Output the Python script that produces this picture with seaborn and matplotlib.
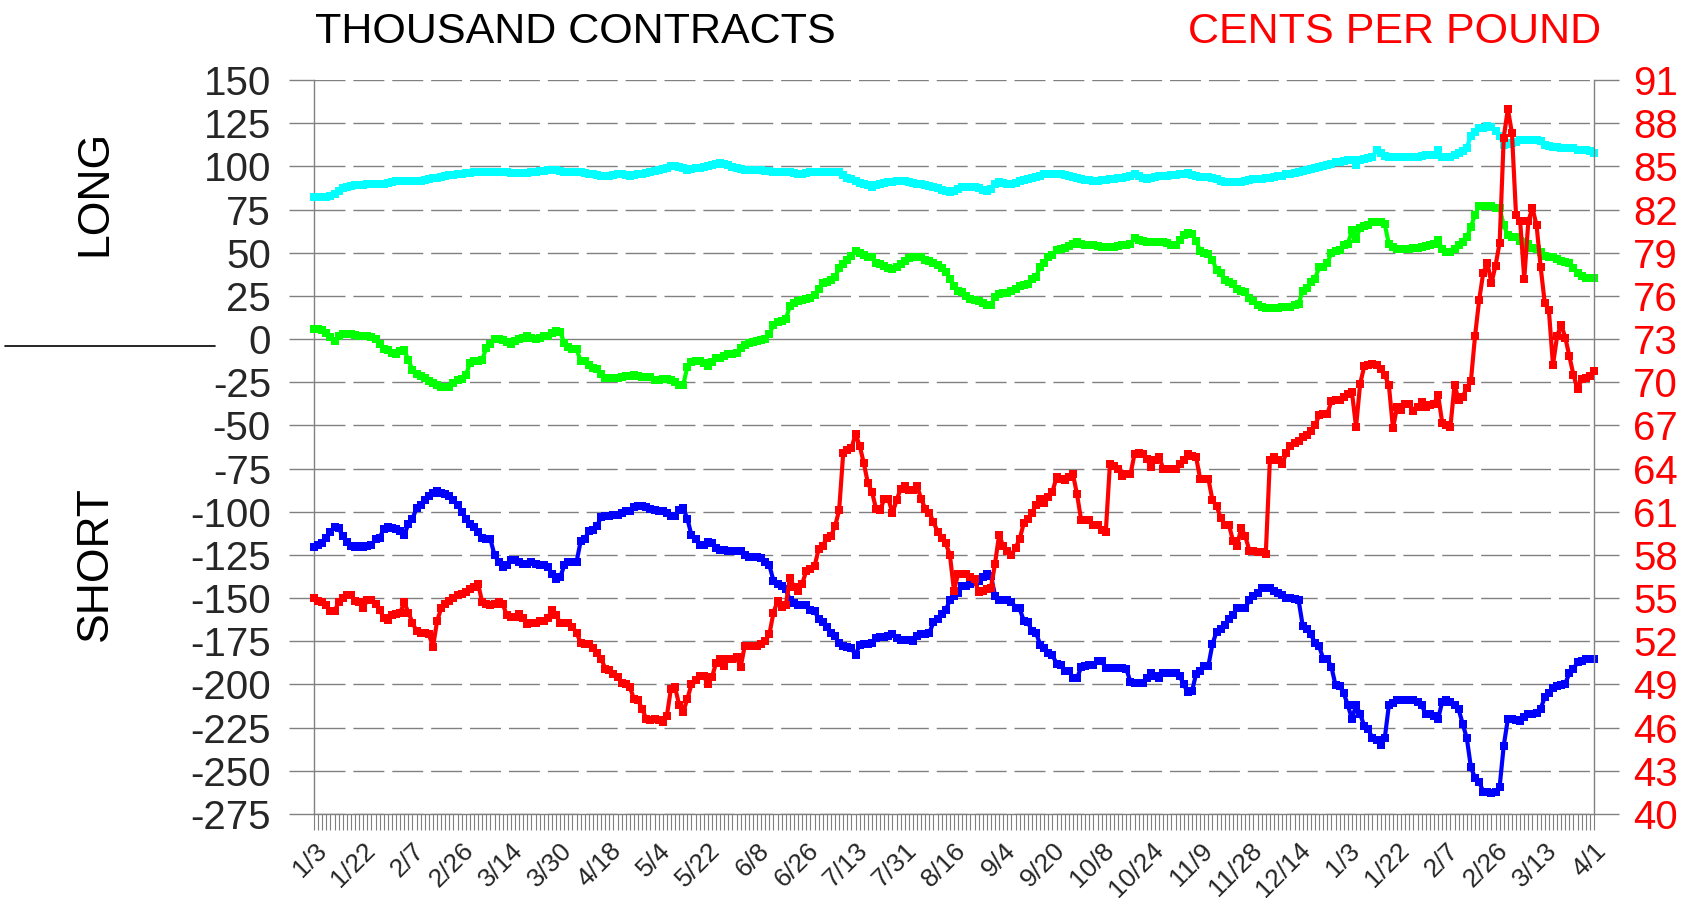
import numpy as np
import pandas as pd
import matplotlib
matplotlib.use("Agg")
import matplotlib.pyplot as plt
from matplotlib.lines import Line2D
import seaborn as sns

# Trading-day axis labels (one every 12 sessions)
date_labels = ["1/3", "1/22", "2/7", "2/26", "3/14", "3/30", "4/18", "5/4", "5/22",
               "6/8", "6/26", "7/13", "7/31", "8/16", "9/4", "9/20", "10/8", "10/24",
               "11/9", "11/28", "12/14", "1/3", "1/22", "2/7", "2/26", "3/13", "4/1"]

# Thousand contracts (left scale)
cyan_long = [
    82.2, 82.2, 82.3, 82.5, 83.0, 84.0, 86.0, 87.5, 88.3, 88.8,
    89.0, 89.2, 89.3, 89.5, 89.6, 89.6, 89.7, 89.8, 90.2, 90.8,
    91.3, 91.7, 91.7, 91.7, 91.7, 91.5, 91.7, 92.0, 92.5, 93.0,
    93.5, 94.0, 94.5, 95.0, 95.2, 95.5, 95.7, 96.0, 96.3, 96.7,
    96.7, 96.8, 96.7, 96.7, 96.8, 96.7, 96.5, 96.5, 96.4, 96.3,
    96.2, 96.2, 96.3, 96.5, 96.8, 97.2, 97.5, 97.8, 98.1, 97.8,
    97.3, 97.0, 96.7, 96.7, 96.7, 96.5, 96.2, 95.8, 95.3, 95.0,
    94.5, 94.5, 94.7, 95.0, 95.3, 95.3, 95.0, 94.5, 94.8, 95.3,
    95.8, 96.3, 96.7, 97.3, 98.0, 98.7, 99.3, 100.0, 100.1, 99.5,
    98.8, 98.1, 98.3, 98.8, 99.2, 99.5, 100.0, 100.6, 101.2, 101.8,
    101.3, 100.5, 99.5, 99.0, 98.5, 98.1, 98.1, 98.1, 98.0, 97.8,
    97.5, 97.2, 96.7, 96.7, 96.7, 96.7, 96.5, 96.0, 95.3, 95.8,
    96.3, 96.7, 96.7, 96.7, 96.7, 96.7, 96.8, 96.7, 96.5, 95.0,
    93.5, 92.5, 91.5, 90.5, 89.7, 89.0, 88.3, 89.0, 89.8, 90.6,
    90.8, 91.2, 91.5, 91.7, 91.5, 91.0, 90.5, 90.0, 89.7, 89.2,
    88.8, 88.3, 87.5, 86.5, 85.8, 85.0, 86.0, 87.0, 87.8, 87.8,
    87.8, 87.8, 87.5, 86.5, 85.5, 87.0, 89.5, 91.1, 90.5, 90.0,
    89.7, 90.5, 91.3, 92.0, 92.5, 93.3, 94.0, 94.7, 95.3, 95.3,
    95.3, 95.3, 95.3, 95.0, 94.5, 94.0, 93.3, 92.5, 92.3, 92.0,
    91.8, 91.7, 92.0, 92.3, 92.5, 92.8, 93.1, 93.4, 94.0, 94.7,
    95.3, 94.5, 93.5, 92.5, 93.2, 93.8, 94.5, 94.5, 94.7, 94.9,
    95.1, 95.3, 95.8, 96.2, 95.0, 94.2, 93.9, 93.9, 93.9, 93.3,
    92.5, 91.8, 91.1, 91.1, 91.1, 91.1, 91.1, 91.5, 92.0, 92.5,
    92.5, 92.5, 93.0, 93.5, 93.9, 94.2, 94.7, 95.3, 95.7, 96.2,
    96.7, 97.2, 97.7, 98.3, 98.9, 99.5, 100.2, 100.9, 101.6, 102.3,
    102.8, 103.2, 103.7, 103.5, 100.9, 103.7, 104.2, 104.7, 105.2, 109.4,
    107.5, 106.0, 105.2, 105.2, 105.2, 105.2, 105.2, 105.2, 105.2, 105.2,
    105.8, 106.3, 106.6, 106.6, 109.4, 105.2, 105.2, 105.2, 106.5, 108.0,
    109.0, 110.8, 117.8, 120.0, 122.0, 122.0, 123.4, 122.5, 120.6, 117.8,
    112.2, 113.0, 113.6, 114.2, 115.0, 115.0, 115.0, 115.0, 115.0, 114.5,
    112.2, 111.8, 111.4, 111.0, 110.8, 110.8, 110.8, 110.8, 109.4, 109.4,
    109.4, 109.0, 108.0]

green_net = [
    5.6, 5.6, 5.0, 3.5, 1.0, -1.4, 1.5, 2.9, 3.0, 2.9,
    2.5, 2.0, 1.5, 1.5, 1.0, 0.0, -3.0, -5.6, -6.5, -8.0,
    -8.4, -7.0, -6.4, -12.0, -18.0, -20.0, -21.5, -22.4, -24.5, -25.5,
    -26.6, -27.5, -28.0, -27.5, -25.5, -23.8, -23.0, -21.0, -14.0, -12.6,
    -12.6, -12.0, -5.0, -2.8, 0.0, 0.0, -0.5, -1.5, -2.8, -1.0,
    0.0, 0.5, 1.5, 0.5, 0.0, 0.5, 1.5, 2.0, 3.5, 4.5,
    4.0, -2.0, -4.5, -5.6, -6.0, -12.6, -12.6, -15.0, -16.8, -17.5,
    -20.0, -22.4, -22.4, -22.4, -22.4, -22.0, -21.5, -21.5, -21.0, -21.5,
    -22.0, -22.0, -22.0, -23.8, -23.8, -23.0, -23.0, -23.8, -25.0, -26.6,
    -26.6, -16.0, -13.0, -12.6, -12.6, -14.0, -15.4, -13.0, -11.2, -11.2,
    -10.0, -8.4, -8.4, -8.0, -5.0, -3.5, -2.5, -1.5, -1.0, -0.5,
    0.0, 3.0, 8.0, 9.8, 10.5, 11.5, 19.0, 21.0, 22.0, 22.5,
    23.0, 24.0, 25.3, 29.0, 32.3, 33.0, 34.0, 36.0, 41.0, 43.5,
    46.0, 48.0, 51.0, 50.0, 48.5, 47.7, 47.7, 44.0, 43.5, 42.5,
    41.0, 40.7, 42.0, 43.5, 45.0, 47.0, 47.7, 47.7, 47.5, 46.0,
    45.0, 44.0, 43.0, 41.0, 39.0, 35.0, 31.0, 28.0, 27.0, 25.0,
    23.0, 22.5, 22.0, 21.0, 20.0, 19.7, 24.5, 26.0, 26.7, 26.7,
    28.0, 29.0, 30.9, 31.5, 32.0, 35.0, 36.0, 42.0, 44.0, 47.5,
    48.5, 51.5, 51.9, 52.5, 54.0, 55.0, 56.0, 55.0, 54.7, 54.7,
    54.5, 54.0, 53.3, 53.3, 53.3, 53.3, 54.0, 54.5, 54.7, 55.0,
    58.5, 57.5, 57.0, 56.0, 56.0, 56.0, 56.0, 56.0, 55.5, 54.7,
    54.7, 57.5, 60.5, 61.5, 61.0, 57.0, 51.0, 50.0, 49.0, 46.0,
    40.0, 38.0, 34.0, 33.0, 32.0, 29.0, 28.0, 27.0, 24.0, 22.0,
    19.5, 18.3, 18.0, 18.0, 18.0, 18.0, 18.3, 18.3, 18.3, 19.5,
    20.5, 28.0, 29.5, 33.0, 35.0, 41.5, 42.0, 44.0, 50.0, 51.0,
    51.5, 54.5, 55.0, 63.0, 58.0, 64.5, 65.5, 66.0, 67.5, 68.0,
    67.5, 66.5, 55.0, 53.3, 52.0, 52.0, 52.0, 52.0, 52.5, 53.0,
    53.3, 54.0, 54.7, 55.0, 57.5, 52.0, 50.5, 50.5, 52.0, 54.7,
    56.0, 58.9, 65.0, 72.0, 77.0, 77.1, 77.1, 77.0, 76.0, 75.7,
    66.0, 60.0, 58.9, 58.9, 57.0, 56.1, 55.0, 52.5, 51.9, 50.5,
    48.0, 47.7, 47.7, 46.5, 45.0, 44.9, 44.0, 41.0, 38.0, 36.5,
    35.1, 35.1, 35.1]

blue_comm = [
    -120.5, -119, -118, -115, -112, -109, -109.5, -114, -117.7, -120,
    -120.5, -120, -120.5, -120, -119, -116, -115, -110, -109, -109.5,
    -110, -111, -113.5, -107, -104, -98, -96, -93, -91, -89,
    -88, -89, -90, -91, -93, -96, -100, -104, -107, -109,
    -112, -115, -116, -116, -125, -129, -131.7, -131, -128, -128,
    -129, -130, -130, -129, -130, -131, -131, -132, -136, -138.7,
    -138, -131, -129, -129, -129, -117, -116, -111, -110.7, -108,
    -103, -102.3, -102.3, -102, -102, -100.5, -99.5, -99.5, -97, -96.7,
    -96.7, -97.5, -98.5, -99, -99.5, -99.5, -101, -102.3, -102.3, -99,
    -98, -104, -113.5, -116, -119, -119, -117.7, -118, -121, -121.9,
    -122, -123, -123, -123, -123, -125, -126, -126, -126, -127,
    -129, -131, -140, -142, -143, -145, -151, -153, -154, -154,
    -154, -157, -157.5, -162, -164, -167, -170, -172, -176, -178,
    -178.5, -179, -183, -177, -176.5, -176.5, -176, -173, -172.3, -172.3,
    -172, -171, -173, -174, -174.5, -174.5, -175, -172, -171, -171,
    -170, -164, -162, -159, -157, -151, -149, -147, -143, -143,
    -142, -140.5, -140, -137.5, -136, -137, -148.5, -151, -151.3, -151.3,
    -152, -155.5, -156, -163, -164, -169, -170, -177, -179, -182,
    -183, -188, -189, -192, -192, -196, -196.2, -190, -189.2, -189,
    -189, -186.4, -186.4, -190.6, -190.6, -190.6, -190.6, -190.6, -191, -198.5,
    -199, -199, -199, -196, -193.4, -195, -196.2, -193.5, -193.4, -193.4,
    -193.4, -195, -200, -204.6, -204, -194, -192, -189.2, -189.2, -176.5,
    -169.5, -168, -165.3, -162, -159.7, -155.5, -155.5, -155.5, -151.3, -149,
    -147.1, -144.3, -144.3, -144.3, -146, -147.1, -148, -149.9, -149.9, -150.5,
    -151.3, -166, -168, -171, -176, -178, -185, -185, -190, -200.4,
    -201, -205, -212, -220, -212, -217, -224.2, -226, -231.2, -232,
    -235, -231, -212, -211, -209, -208.8, -209, -208.8, -209, -210,
    -212, -217.2, -217.2, -218, -220, -210, -209, -210.2, -212, -214.4,
    -222.8, -231.2, -248, -254, -256.4, -262, -262, -263, -262, -259.2,
    -235.4, -220, -220, -220.5, -221.4, -219, -217.2, -217.2, -216.5, -214,
    -207.4, -205, -201.8, -201, -200.4, -199.5, -193.4, -191, -187, -186.3,
    -185, -185, -185.5]

# Cents per pound (right scale)
price = [
    55.0, 54.8, 54.7, 54.5, 54.1, 54.1, 54.7, 55.0, 55.2, 55.2,
    54.8, 54.7, 54.3, 54.9, 54.9, 54.6, 54.2, 53.6, 53.5, 53.8,
    53.9, 54.0, 54.7, 54.0, 53.3, 52.7, 52.6, 52.6, 52.5, 51.6,
    53.4, 54.3, 54.6, 54.8, 55.0, 55.2, 55.3, 55.4, 55.6, 55.8,
    56.0, 54.7, 54.6, 54.5, 54.6, 54.7, 54.6, 53.8, 53.7, 53.7,
    53.9, 53.6, 53.2, 53.3, 53.3, 53.4, 53.4, 53.6, 54.2, 53.8,
    53.3, 53.3, 53.3, 53.0, 52.6, 51.9, 51.8, 51.8, 51.5, 51.2,
    50.8, 50.1, 50.0, 49.7, 49.5, 49.1, 49.0, 48.8, 48.0, 47.9,
    47.3, 46.6, 46.5, 46.6, 46.5, 46.4, 46.8, 48.7, 48.8, 47.6,
    47.1, 48.0, 49.0, 49.3, 49.6, 49.6, 49.0, 49.5, 50.5, 50.8,
    50.3, 50.8, 50.8, 50.9, 50.2, 51.7, 51.7, 51.7, 51.7, 51.8,
    52.0, 52.5, 54.0, 54.8, 54.4, 54.5, 56.4, 55.8, 55.5, 56.0,
    56.9, 57.0, 57.2, 58.4, 58.6, 59.2, 59.3, 60.0, 61.1, 65.1,
    65.3, 65.4, 66.4, 65.6, 64.4, 63.0, 62.4, 61.2, 61.1, 61.9,
    61.9, 60.9, 61.8, 62.6, 62.8, 62.5, 62.5, 62.8, 61.9, 61.2,
    60.9, 60.3, 59.6, 59.2, 58.8, 58.0, 55.5, 56.7, 56.7, 56.7,
    56.5, 56.3, 55.4, 55.5, 55.6, 55.7, 57.4, 59.4, 58.6, 58.3,
    58.0, 58.5, 59.1, 60.2, 60.5, 60.9, 61.5, 61.9, 61.6, 62.0,
    62.4, 63.4, 63.3, 63.2, 63.4, 63.6, 62.2, 60.4, 60.4, 60.4,
    60.1, 60.1, 59.7, 59.6, 64.3, 64.2, 64.0, 63.5, 63.6, 63.6,
    65.0, 65.1, 65.0, 64.7, 64.1, 64.6, 64.8, 64.0, 64.0, 64.0,
    64.0, 64.3, 64.6, 65.0, 64.9, 64.8, 63.3, 63.3, 63.3, 61.8,
    61.4, 60.6, 60.1, 60.1, 59.0, 58.6, 59.9, 59.3, 58.3, 58.3,
    58.2, 58.2, 58.1, 64.6, 64.8, 64.6, 64.3, 65.1, 65.6, 65.8,
    65.9, 66.2, 66.3, 66.6, 67.0, 67.7, 67.8, 67.8, 68.7, 68.8,
    68.8, 69.0, 69.2, 69.3, 66.9, 69.9, 71.1, 71.2, 71.3, 71.2,
    70.9, 70.5, 69.8, 66.8, 68.3, 68.1, 68.5, 68.5, 68.0, 68.3,
    68.6, 68.3, 68.4, 68.5, 69.1, 67.2, 67.0, 66.9, 69.8, 68.8,
    69.0, 69.6, 70.1, 73.2, 75.7, 77.6, 78.3, 76.9, 78.1, 79.7,
    87.0, 89.0, 87.3, 81.6, 81.2, 77.2, 81.2, 82.1, 80.9, 78.0,
    75.5, 75.0, 71.2, 73.2, 74.0, 73.1, 71.8, 70.5, 69.5, 70.2,
    70.3, 70.4, 70.8]

sns.set_style("white")
plt.rcParams["font.family"] = ["Liberation Sans", "DejaVu Sans"]
plt.rcParams["axes.unicode_minus"] = False

W, H = 1685, 910
fig = plt.figure(figsize=(W / 100, H / 100), dpi=100)
ax = fig.add_axes([314 / W, 1 - 814 / H, 1280 / W, 734 / H])
ax2 = ax.twinx()

days = np.arange(len(price))
df = pd.DataFrame({"day": days, "cyan": cyan_long, "green": green_net,
                   "blue": blue_comm, "price": price})

grid_color = "#808080"
left_ticks = np.arange(-275, 151, 25)
right_ticks = np.arange(40, 92, 3)

for v in left_ticks:
    if v == 0:
        ax.axhline(v, color=grid_color, lw=1.0, zorder=0.5)
    else:
        ax.axhline(v, color=grid_color, lw=1.0, ls=(0, (22.3, 5.7)), zorder=0.5)

style = dict(marker="s", markersize=6, markeredgewidth=0, linewidth=3.0,
             clip_on=False, zorder=3)
sns.lineplot(data=df, x="day", y="cyan", ax=ax, color="#00FFFF", **style)
sns.lineplot(data=df, x="day", y="green", ax=ax, color="#00FF00", **style)
sns.lineplot(data=df, x="day", y="blue", ax=ax, color="#0000FF", **style)
sns.lineplot(data=df, x="day", y="price", ax=ax2, color="#FF0000", **style)

ax.set_xlim(0, len(price) - 1)
ax.set_ylim(-275, 150)
ax2.set_ylim(40, 91)
for a in (ax, ax2):
    a.set_xlabel("")
    a.set_ylabel("")

ax.set_xticks(np.arange(0, len(price), 12))
ax.set_xticklabels(date_labels, rotation=45, ha="right", va="top",
                   rotation_mode="anchor")
ax.set_xticks(days, minor=True)
ax.tick_params(axis="x", which="both", direction="out", length=11.5, width=0.8,
               color=grid_color, labelsize=19, pad=6, bottom=True)

ax.set_yticks(left_ticks)
ax.set_yticklabels([str(v) for v in left_ticks])
ax.tick_params(axis="y", direction="out", length=18, width=1.0, color=grid_color,
               labelsize=29, pad=13, left=True)

ax2.set_yticks(right_ticks)
ax2.set_yticklabels([str(v) for v in right_ticks])
ax2.tick_params(axis="y", direction="out", length=18, width=1.0, color=grid_color,
                labelsize=29, labelcolor="#FF0000", pad=10, right=True)

for a in (ax, ax2):
    a.spines["top"].set_visible(False)
    for s in ("left", "right", "bottom"):
        a.spines[s].set_color(grid_color)
        a.spines[s].set_linewidth(1.0)
ax2.spines["left"].set_visible(False)
ax2.spines["bottom"].set_visible(False)
ax.spines["right"].set_visible(False)

fig.text(315 / W, 1 - 32 / H, "THOUSAND CONTRACTS", fontsize=31,
         ha="left", va="center", color="black")
fig.text(1601 / W, 1 - 32 / H, "CENTS PER POUND", fontsize=31,
         ha="right", va="center", color="#FF0000")
fig.text(95 / W, 1 - 193 / H, "LONG", rotation=90, fontsize=32,
         ha="center", va="center", color="black")
fig.text(95 / W, 1 - 564 / H, "SHORT", rotation=90, fontsize=32,
         ha="center", va="center", color="black")
fig.add_artist(Line2D([5 / W, 215 / W], [1 - 346 / H, 1 - 346 / H],
                      color="black", lw=1.2))

fig.savefig("out.png", dpi=100)
